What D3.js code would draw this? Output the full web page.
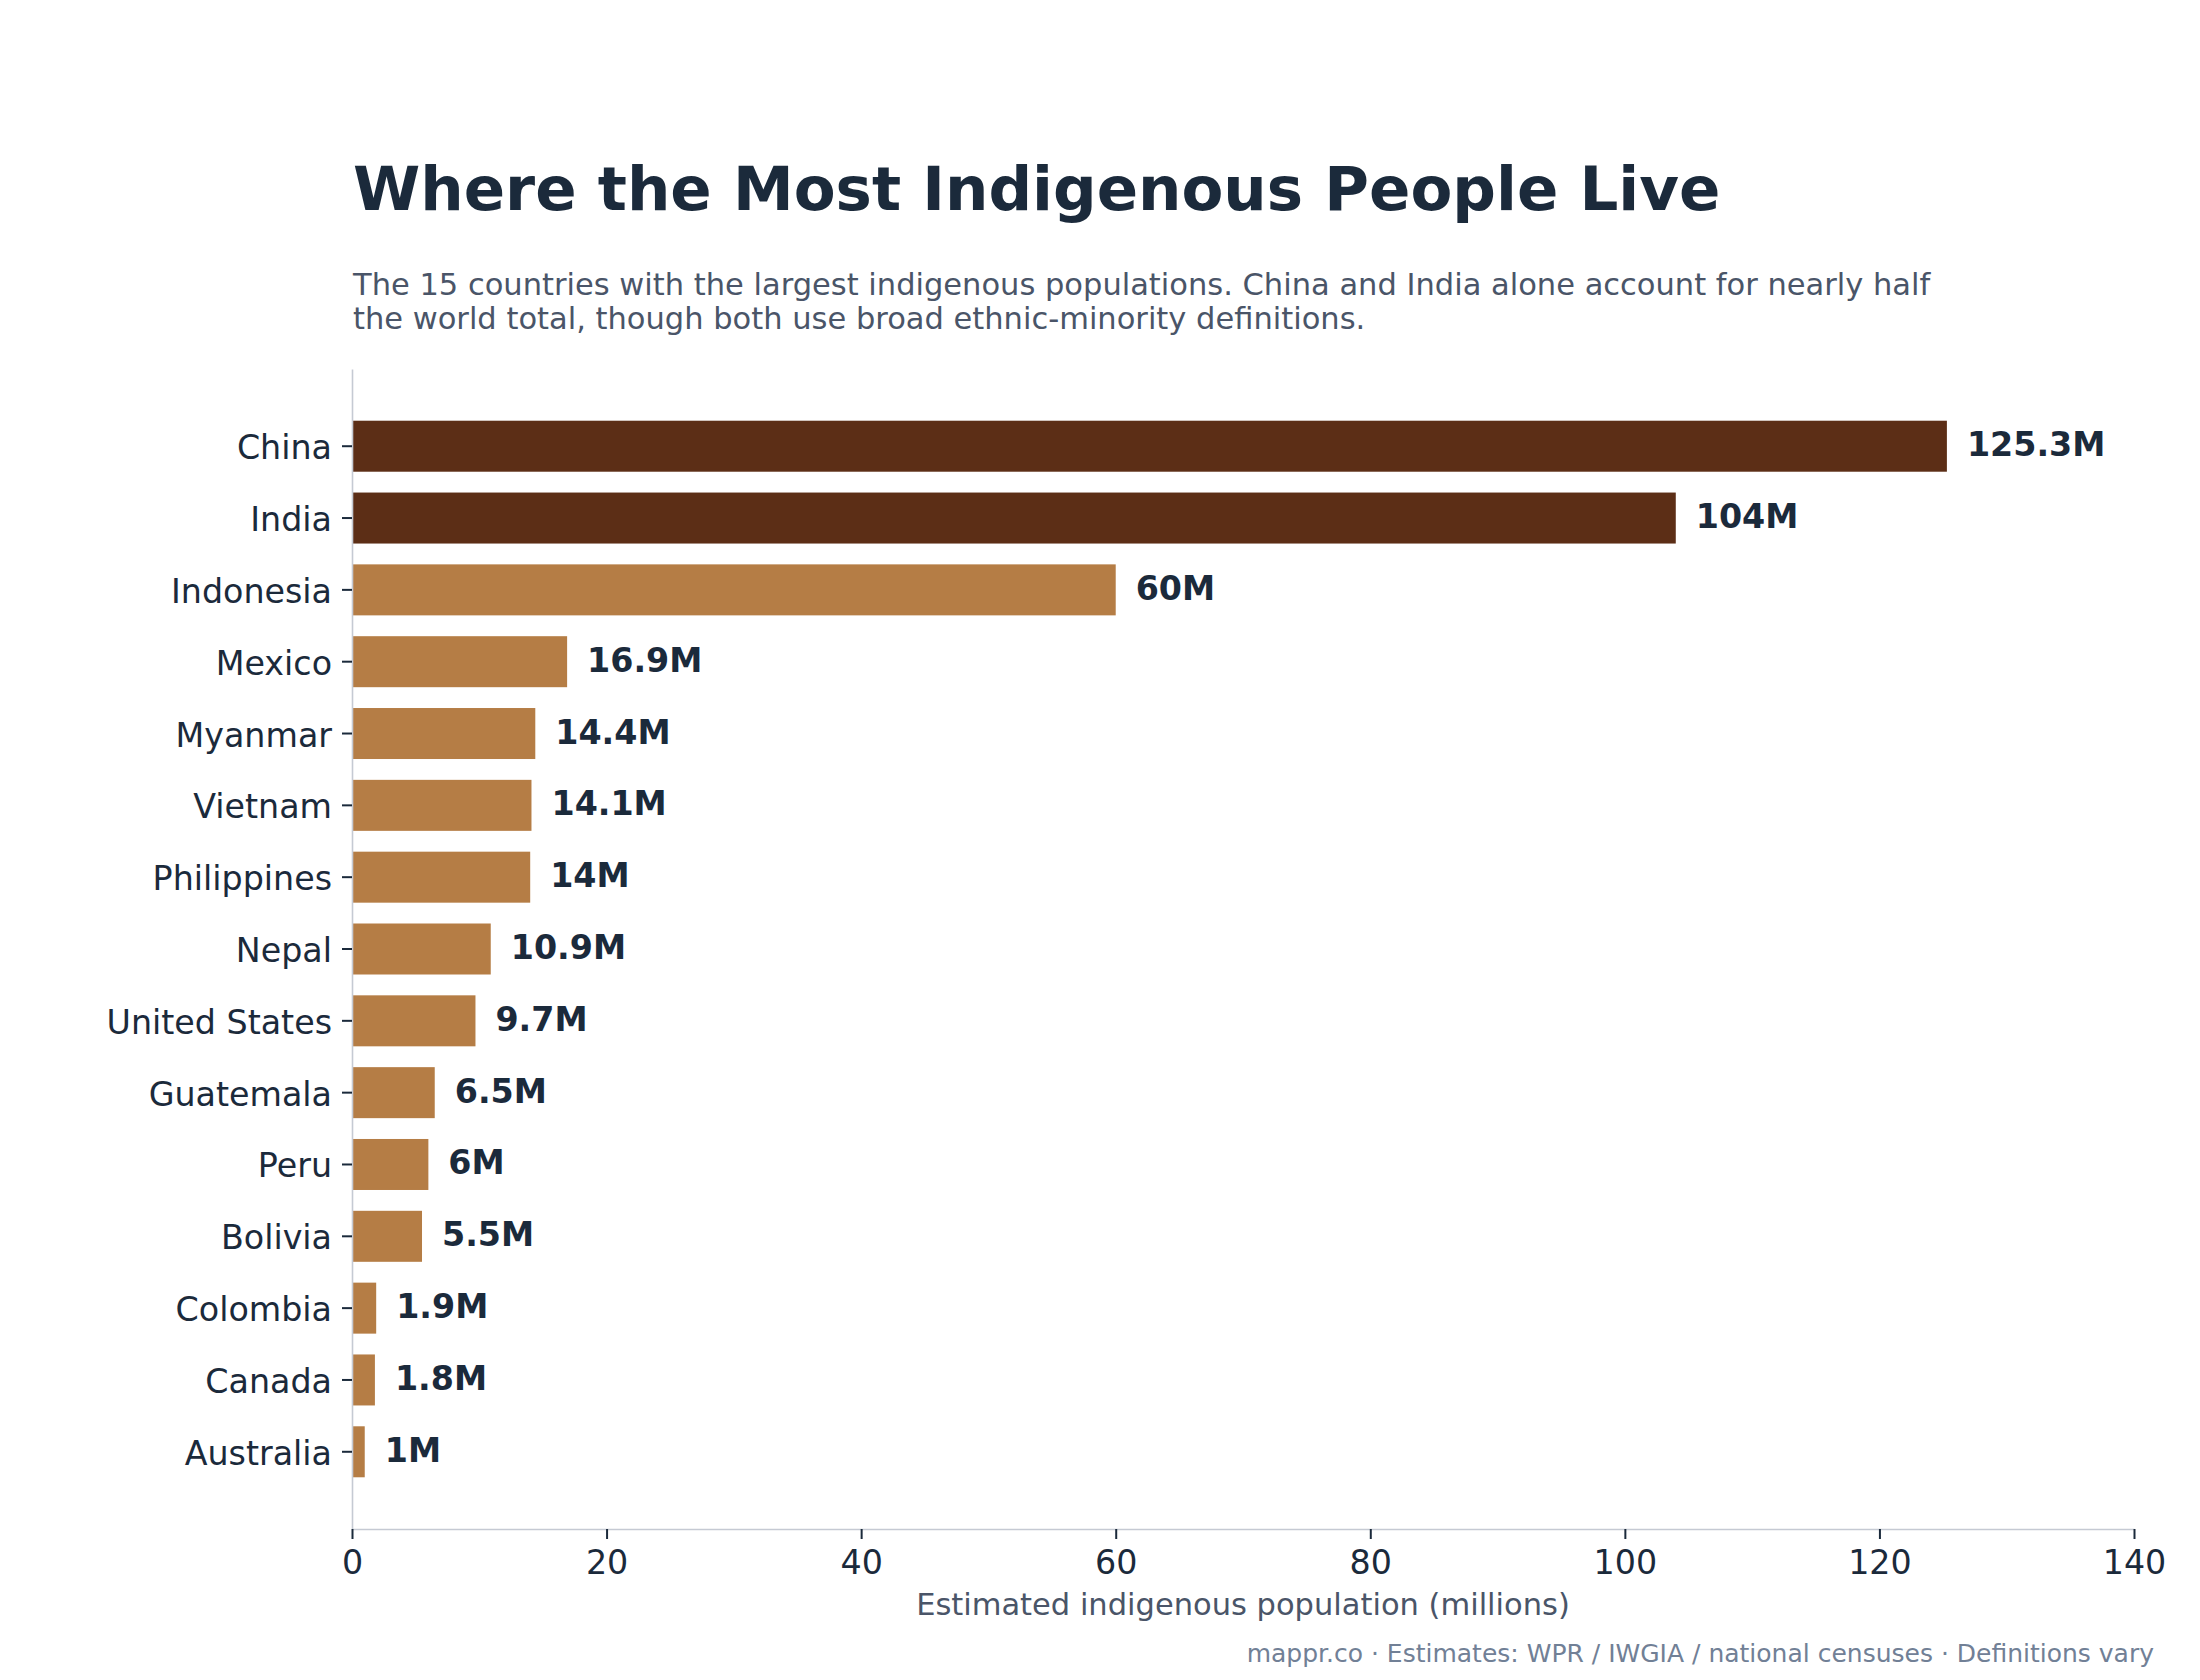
<!DOCTYPE html>
<html>
<head>
<meta charset="utf-8">
<script src="https://cdn.jsdelivr.net/npm/d3@7/dist/d3.min.js"></script>
<style>
  body { margin: 0; background: #ffffff; }
  svg { display: block; font-family: "DejaVu Sans", sans-serif; }
</style>
</head>
<body>
<div id="chart"></div>
<script>
// data
const countries = ["China", "India", "Indonesia", "Mexico", "Myanmar", "Vietnam", "Philippines",
  "Nepal", "United States", "Guatemala", "Peru", "Bolivia", "Colombia", "Canada", "Australia"];
const populations = [125.3, 104, 60, 16.9, 14.4, 14.1, 14, 10.9, 9.7, 6.5, 6, 5.5, 1.9, 1.8, 1];
const highlighted = ["China", "India"];
const xTicks = [0, 20, 40, 60, 80, 100, 120, 140];

const title = "Where the Most Indigenous People Live";
const subtitle = [
  "The 15 countries with the largest indigenous populations. China and India alone account for nearly half",
  "the world total, though both use broad ethnic-minority definitions."
];
const xLabel = "Estimated indigenous population (millions)";
const footer = "mappr.co \u00b7 Estimates: WPR / IWGIA / national censuses \u00b7 Definitions vary";

const width = 2200, height = 1680;
const margin = { top: 369, right: 66, bottom: 151, left: 352 };

const textColor = "#1b2a3b";
const subColor = "#4a5568";
const footColor = "#718096";
const darkColor = "#5c2e16";
const lightColor = "#b57d45";

const data = countries.map((c, i) => ({ country: c, value: populations[i] }));

const svg = d3.select("#chart").append("svg")
  .attr("width", width)
  .attr("height", height);

const x = d3.scaleLinear()
  .domain([0, 140])
  .range([margin.left, width - margin.right]);

const y = d3.scaleBand()
  .domain(countries)
  .range([margin.top, height - margin.bottom])
  .paddingInner(0.29)
  .paddingOuter(0.72);

// title + subtitle
svg.append("text")
  .attr("x", 353)
  .attr("y", 210)
  .attr("fill", textColor)
  .style("font-size", "61px")
  .style("font-weight", "bold")
  .text(title);

svg.append("g")
  .selectAll("text")
  .data(subtitle)
  .join("text")
  .attr("x", 353)
  .attr("y", (d, i) => 295 + i * 33.5)
  .attr("fill", subColor)
  .style("font-size", "30.5px")
  .text(d => d);

// bars
svg.append("g")
  .selectAll("rect")
  .data(data)
  .join("rect")
  .attr("x", x(0))
  .attr("y", d => y(d.country))
  .attr("width", d => x(d.value) - x(0))
  .attr("height", y.bandwidth())
  .attr("fill", d => highlighted.includes(d.country) ? darkColor : lightColor);

// value labels
const fmt = d3.format("~g");
svg.append("g")
  .selectAll("text")
  .data(data)
  .join("text")
  .attr("x", d => x(d.value) + 20)
  .attr("y", d => y(d.country) + y.bandwidth() / 2 + 10)
  .attr("fill", textColor)
  .style("font-size", "33.3px")
  .style("font-weight", "bold")
  .text(d => fmt(d.value) + "M");

// Y axis
const yAxis = svg.append("g")
  .attr("transform", `translate(${margin.left},0)`)
  .call(d3.axisLeft(y).tickSize(10).tickSizeOuter(0).tickPadding(10));

yAxis.select(".domain").attr("stroke", "#c5cad3").attr("stroke-width", 1.6);
yAxis.selectAll(".tick line").attr("stroke", textColor).attr("stroke-width", 2);
yAxis.selectAll(".tick text")
  .attr("fill", textColor)
  .attr("dy", null)
  .attr("y", 13)
  .style("font-size", "33.3px")
  .style("font-family", "'DejaVu Sans', sans-serif");

// X axis
const xAxis = svg.append("g")
  .attr("transform", `translate(0,${height - margin.bottom})`)
  .call(d3.axisBottom(x).tickValues(xTicks).tickSize(10).tickSizeOuter(0).tickPadding(10));

xAxis.select(".domain").attr("stroke", "#c5cad3").attr("stroke-width", 1.6);
xAxis.selectAll(".tick line").attr("stroke", textColor).attr("stroke-width", 2);
xAxis.selectAll(".tick text")
  .attr("fill", textColor)
  .attr("dy", null)
  .attr("y", 45)
  .style("font-size", "33.3px")
  .style("font-family", "'DejaVu Sans', sans-serif");

// axis label
svg.append("text")
  .attr("x", (x(0) + x(140)) / 2)
  .attr("y", 1615)
  .attr("text-anchor", "middle")
  .attr("fill", subColor)
  .style("font-size", "30.5px")
  .text(xLabel);

// footer
svg.append("text")
  .attr("x", 2154)
  .attr("y", 1662)
  .attr("text-anchor", "end")
  .attr("fill", footColor)
  .style("font-size", "25px")
  .text(footer);
</script>
</body>
</html>
